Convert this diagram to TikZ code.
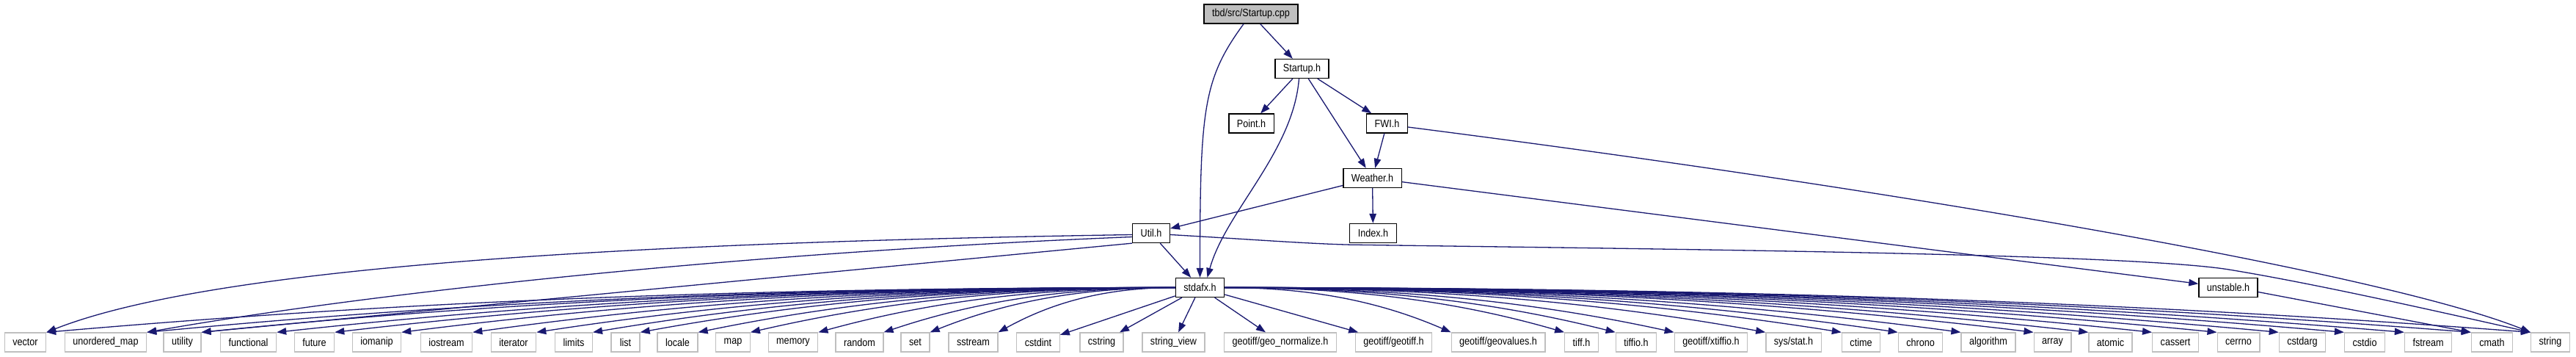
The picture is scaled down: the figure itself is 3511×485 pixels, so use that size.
\documentclass[tikz,border=0pt]{standalone}
\usepackage{fontspec}
\setmainfont{Liberation Sans}[FakeStretch=0.87]
\usetikzlibrary{arrows.meta,calc}
\definecolor{cEdge}{HTML}{191970}
\definecolor{cSys}{HTML}{BFBFBF}
\definecolor{cSrc}{HTML}{BFBFBF}
\tikzset{
  box/.style={draw, rectangle, align=center, font=\fontsize{14.5}{17}\selectfont,
    inner xsep=11pt, inner ysep=0pt, minimum height=26pt, minimum width=39pt, line width=1.3pt},
  src/.style={box, draw=black, fill=cSrc},
  hdr/.style={box, draw=black, fill=white},
  sys/.style={box, draw=cSys, fill=white},
  incl/.style={draw=cEdge, line width=1.3pt, -{Triangle[length=13pt, width=9.5pt]}},
}
\begin{document}
\begin{tikzpicture}[x=1pt, y=1pt]
    \useasboundingbox (0,0) rectangle (3511,485);
    % project headers
    \node[src] (cpp) at (1705,466) {tbd/src/Startup.cpp};
    \node[hdr] (sh) at (1774.5,391.5) {Startup.h};
    \node[hdr] (pt) at (1705.5,317) {Point.h};
    \node[hdr] (fwi) at (1890.5,317) {FWI.h};
    \node[hdr] (wea) at (1870.5,242.5) {Weather.h};
    \node[hdr] (util) at (1569,167.5) {Util.h};
    \node[hdr] (idx) at (1871.5,167.5) {Index.h};
    \node[hdr] (sfx) at (1635.5,93.5) {stdafx.h};
    \node[hdr] (unst) at (3037,93.5) {unstable.h};
    % system headers
    \foreach \nm/\x/\lbl in {vec/34.5/vector, umap/144/unordered\_map, utl/248.5/utility,
        func/338.5/functional, fut/428.5/future, iomp/513.5/iomanip, iost/608.5/iostream,
        iter/700/iterator, lim/782/limits, lst/852.5/list, loc/923.5/locale, mp/999/map,
        mem/1081/memory, rnd/1171.5/random, st/1247.5/set, sst/1326.5/sstream,
        cint/1415/cstdint, cstr/1501.5/cstring, sview/1599.5/string\_view,
        gnorm/1745/{geotiff/geo\_normalize.h}, gtiff/1899.5/{geotiff/geotiff.h},
        gval/2042/{geotiff/geovalues.h}, tiff/2155.5/tiff.h, tio/2230/tiffio.h,
        xtio/2332/{geotiff/xtiffio.h}, sstat/2444.5/{sys/stat.h}, ctm/2536.5/ctime,
        chr/2617.5/chrono, alg/2710/algorithm, arr/2797.5/array, atm/2876.5/atomic,
        cas/2965/cassert, cerr/3051/cerrno, carg/3138/cstdarg, cio/3223/cstdio,
        fst/3309.5/fstream, cm/3396.5/cmath, str/3476/string}
      \node[sys] (\nm) at (\x,19) {\lbl};
    % includes between project headers
    \draw[incl] (cpp) -- (sh);
    \draw[incl] ([xshift=-10pt]cpp.south) .. controls +(-55,-75) and +(0,230) .. (sfx.north);
    \draw[incl] (sh) -- (pt);
    \draw[incl] (sh) -- (fwi);
    \draw[incl] (sh) -- (wea);
    \draw[incl] ([xshift=-4pt]sh.south) .. controls +(-8,-100) and +(25,90) .. ([xshift=10pt]sfx.north);
    \draw[incl] (fwi) -- (wea);
    \draw[incl] ([yshift=-5pt]fwi.east) .. controls +(681,-87) and +(-200,80) .. (str.north west);
    \draw[incl] (wea) -- (util);
    \draw[incl] (wea) -- (idx);
    \draw[incl] (wea) -- (unst);
    \draw[incl] (util) -- (sfx);
    \draw[incl] ([yshift=-2pt]util.west) .. controls +(-643,-10) and +(236,93) .. (vec.north east);
    \draw[incl] ([yshift=-5pt]util.west) .. controls +(-543,-22) and +(301,53) .. (umap.north east);
    \draw[incl] (util.south west) -- (utl.north east);
    % Util.h to string runs just under Index.h and over unstable.h
    \draw[incl] ([yshift=-2pt]util.east) .. controls +(105,-6) and +(-60,1.5) .. ([yshift=-2pt]idx.south west)
      .. controls +(460,-6.5) and +(-137,21.5) .. ([yshift=11pt]unst.north)
      .. controls +(113,-18.5) and +(-151,34) .. (str.north west);
    \draw[incl] ([yshift=-6pt]unst.east) -- (cm.north west);
    % stdafx.h fan-out
    \foreach \tg in {cint, cstr, sview, gnorm, gtiff}
      \draw[incl] (sfx) -- (\tg);
    \foreach \tg in {vec, umap, utl, func, fut, iomp, iost, iter, lim, lst, loc, mp, mem, rnd, st, sst}
      \draw[incl] let \p1=(sfx.west), \p2=(\tg.north east), \n1={\x2-\x1} in
        (\p1) .. controls +(0.4*\n1,0) and +(-0.3*\n1,40) .. (\p2);
    \foreach \tg in {gval, tiff, tio, xtio, sstat, ctm, chr, alg, arr, atm, cas, cerr, carg, cio, fst, cm, str}
      \draw[incl] let \p1=(sfx.east), \p2=(\tg.north west), \n1={\x2-\x1} in
        (\p1) .. controls +(0.4*\n1,0) and +(-0.3*\n1,40) .. (\p2);
\end{tikzpicture}
\end{document}
